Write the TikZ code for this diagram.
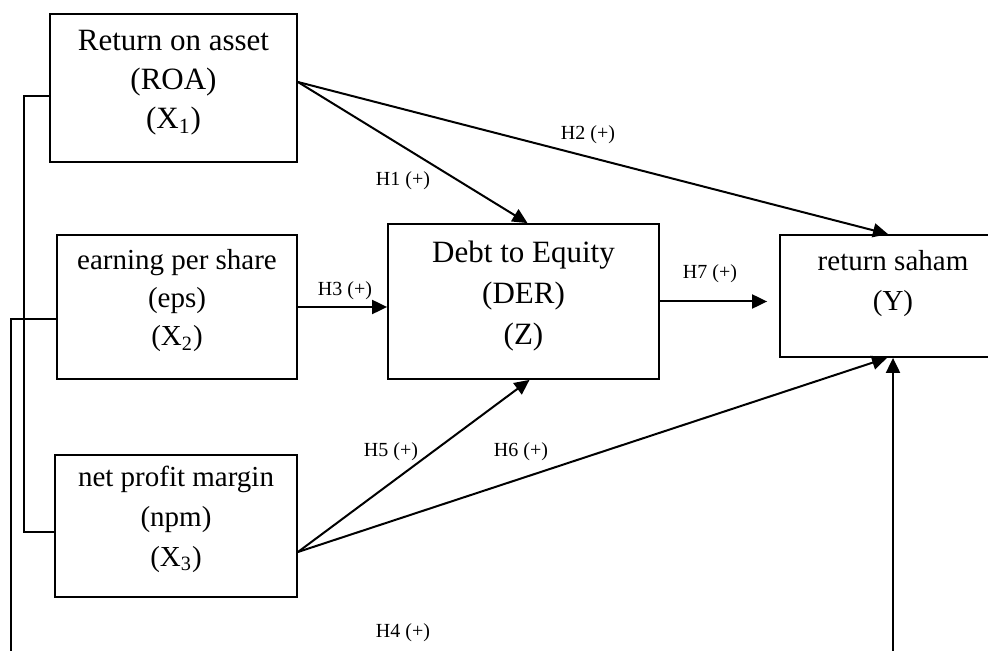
\documentclass[tikz,border=0pt]{standalone}
\usepackage{fontspec}
\setmainfont{Liberation Serif}
\usetikzlibrary{calc}
\usetikzlibrary{arrows.meta}

\begin{document}
\begin{tikzpicture}[
        x=0.5pt, y=-0.5pt,
        factorbox/.style={
            rectangle,
            draw,
            line width=0.9pt,
        },
        bigtext/.style={
            align=center,
            font=\fontsize{15.5}{19.5}\selectfont,
        },
        smalltext/.style={
            align=center,
            font=\fontsize{14.5}{19}\selectfont,
        },
        hyp/.style={
            font=\fontsize{10}{12}\selectfont,
            inner sep=0pt,
        },
        wire/.style={line width=1pt},
        link/.style={line width=1pt, -{Triangle[length=7.5pt,width=7pt]}},
    ]

    \useasboundingbox (0,0) rectangle (988,651);
    \clip (0,0) rectangle (988,651);

    % boxes
    \node (roa) at (173.5,88) [factorbox, minimum width=123.5pt, minimum height=74pt] {};
    \node (eps) at (177,307) [factorbox, minimum width=120pt, minimum height=72pt] {};
    \node (npm) at (176,526) [factorbox, minimum width=121pt, minimum height=71pt] {};
    \node (der) at (523.5,301.5) [factorbox, minimum width=135.5pt, minimum height=77.5pt] {};
    \node (ret) at (893,296) [factorbox, minimum width=113pt, minimum height=61pt] {};

    % box texts
    \node (roatxt) at (173.5,83) [bigtext] {Return on asset\\(ROA)\\(X\textsubscript{1})};
    \node (epstxt) at (177,301) [smalltext] {earning per share\\(eps)\\(X\textsubscript{2})};
    \node (npmtxt) at (176,519) [smalltext, font=\fontsize{14.5}{20}\selectfont] {net profit margin\\(npm)\\(X\textsubscript{3})};
    \node (dertxt) at (523.5,296) [bigtext, font=\fontsize{15.5}{20.5}\selectfont] {Debt to Equity\\(DER)\\(Z)};
    \node (rettxt) at (893,284) [smalltext, font=\fontsize{14.5}{20}\selectfont] {return saham\\(Y)};

    % hypotheses
    \node (h1) at (403,181) [hyp] {H1 (+)};
    \node (h2) at (588,135) [hyp] {H2 (+)};
    \node (h3) at (345,291) [hyp] {H3 (+)};
    \node (h4) at (403,633) [hyp] {H4 (+)};
    \node (h5) at (391,452) [hyp] {H5 (+)};
    \node (h6) at (521,452) [hyp] {H6 (+)};
    \node (h7) at (710,274) [hyp] {H7 (+)};

    \coordinate (lowleft) at (11,660);
    \coordinate (lowright) at (893,660);

    \draw [link] ([yshift=3pt]roa.east) -- ([xshift=2pt]der.north);
    \draw [link] ([yshift=3pt]roa.east) -- ([xshift=-2.5pt]ret.north);
    \draw [link] (eps.east) -- (eps.east -| der.west);
    \draw [link] (der.east) -- ($(der.east -| ret.west)+(-12,0)$);
    \draw [link] ([yshift=-13pt]npm.east) -- ([xshift=3pt]der.south);
    \draw [link] ([yshift=-13pt]npm.east) -- ([xshift=-3pt]ret.south);
    \draw [link] (lowright) -- (ret.south);

    \draw [wire] ([yshift=-4pt]roa.west) -- ++(-25,0) |- ([yshift=-3pt]npm.west);
    \draw [wire] ([yshift=-6pt]eps.west) -| (lowleft);

\end{tikzpicture}
\end{document}
